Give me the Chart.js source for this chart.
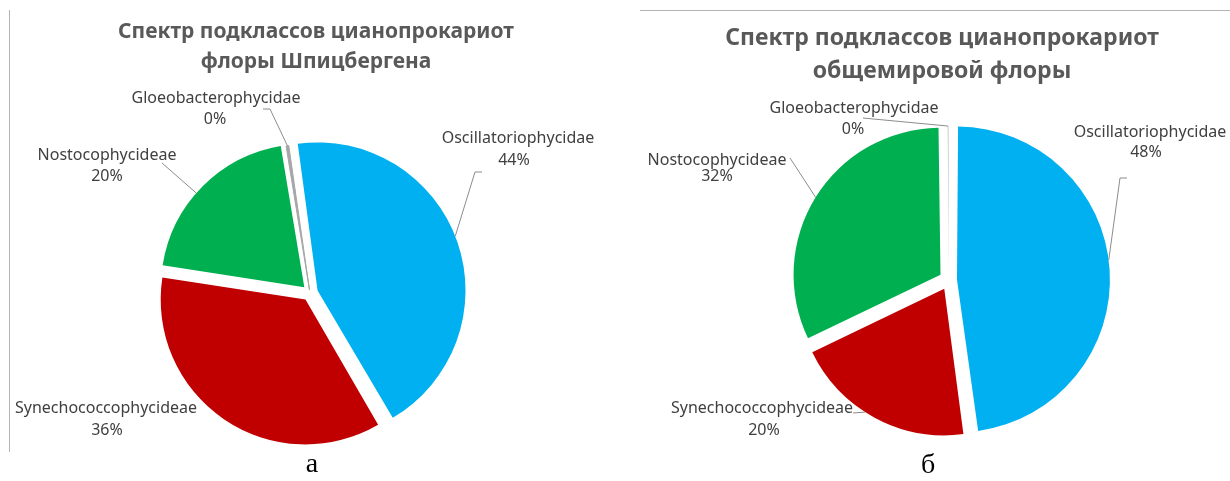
<!DOCTYPE html>
<html lang="ru">
<head>
<meta charset="utf-8">
<title>Спектр подклассов цианопрокариот</title>
<script src="https://cdn.jsdelivr.net/npm/chart.js@4.4.1/dist/chart.umd.min.js"></script>
<style>
  html, body { margin: 0; padding: 0; background: #fff; }
  body { width: 1230px; height: 481px; position: relative; overflow: hidden; }
  .panel { position: absolute; top: 0; width: 615px; height: 481px; }
  .title {
    position: absolute; text-align: center; white-space: nowrap;
    font-family: "Noto Sans", sans-serif; font-weight: bold; color: #595959;
  }
  .caption {
    position: absolute; transform: translateX(-50%);
    font-family: "Liberation Serif", "Times New Roman", serif; font-size: 28px; line-height: 28px; color: #000;
  }
  .frame-left { position: absolute; left: 9px; top: 10px; height: 442px; border-left: 1px solid #b4b4b4; }
  .frame-top { position: absolute; left: 640px; top: 10px; width: 590px; border-top: 1px solid #b4b4b4; }
</style>
</head>
<body>
<div class="frame-left"></div>
<div class="frame-top"></div>

<div class="panel" style="left:0"><canvas id="svalbard"></canvas></div>
<div class="panel" style="left:615px"><canvas id="world"></canvas></div>

<div class="title" style="left:16px; width:600px; top:15px; font-size:21px; line-height:30px;">
  Спектр подклассов цианопрокариот<br>флоры Шпицбергена
</div>
<div class="title" style="left:662px; width:560px; top:20px; font-size:23px; line-height:33px;">
  Спектр подклассов цианопрокариот<br>общемировой флоры
</div>

<div class="caption" style="left:312px; top:449px;">а</div>
<div class="caption" style="left:928px; top:450px;">б</div>

<script>
// subclasses, in the order Excel drew the slices (clockwise from the top)
const categories = ['Oscillatoriophycidae', 'Synechococcophycideae', 'Nostocophycideae', 'Gloeobacterophycidae'];
// share of species, % (Gloeobacterophycidae is a thin sliver that rounds to 0%)
const svalbardShares = [44, 36, 20, 0.4];
const worldShares = [48, 20, 32, 0.2];

const sliceColors = ['#00b0f0', '#c00000', '#00b050', '#a6a6a6'];

// point on the outer edge of an exploded slice, t = 0..1 along the arc
// (mirrors how Chart.js shifts and grows an arc that has an offset)
function edgePoint(arc, t) {
    const p = arc.getProps(['x', 'y', 'startAngle', 'endAngle', 'outerRadius', 'circumference'], true);
    const mid = (p.startAngle + p.endAngle) / 2;
    const shift = (arc.options.offset || 0) / 4;
    const grow = shift * (1 - Math.sin(Math.min(Math.PI, p.circumference || 0)));
    const a = p.startAngle + (p.endAngle - p.startAngle) * t;
    const r = p.outerRadius + grow;
    return {
        x: p.x + Math.cos(mid) * shift + Math.cos(a) * r,
        y: p.y + Math.sin(mid) * shift + Math.sin(a) * r
    };
}

// data labels with leader lines, like Excel's "category name + percentage"
const calloutPlugin = {
    id: 'callouts',
    afterDatasetsDraw(chart, args, opts) {
        const ctx = chart.ctx;
        const meta = chart.getDatasetMeta(0);
        const values = chart.data.datasets[0].data;
        const total = values.reduce((a, b) => a + b, 0);

        ctx.save();
        ctx.font = opts.font;
        ctx.fillStyle = opts.color;
        ctx.strokeStyle = opts.lineColor;
        ctx.lineWidth = 1;
        ctx.textAlign = 'center';
        ctx.textBaseline = 'middle';

        opts.items.forEach((item, i) => {
            const pct = Math.round(values[i] / total * 100) + '%';
            ctx.fillText(chart.data.labels[i], item.x, item.y);
            ctx.fillText(pct, item.px, item.py);

            if (item.leader) {
                const end = edgePoint(meta.data[i], item.leader.t);
                ctx.beginPath();
                item.leader.path.forEach((pt, k) => {
                    if (k === 0) ctx.moveTo(pt[0], pt[1]);
                    else ctx.lineTo(pt[0], pt[1]);
                });
                ctx.lineTo(end.x, end.y);
                ctx.stroke();
            }
        });
        ctx.restore();
    }
};

function makePie(canvasId, shares, cfg) {
    return new Chart(document.getElementById(canvasId), {
        type: 'pie',
        data: {
            labels: categories,
            datasets: [{
                data: shares,
                backgroundColor: sliceColors,
                borderWidth: cfg.borderWidth,
                borderColor: '#a6a6a6',
                offset: cfg.offset,
                hoverOffset: 0
            }]
        },
        options: {
            responsive: true,
            maintainAspectRatio: false,
            animation: false,
            events: [],
            rotation: cfg.rotation,
            radius: cfg.radius,
            layout: { padding: cfg.padding },
            plugins: {
                legend: { display: false },
                tooltip: { enabled: false },
                callouts: {
                    font: '16px "Noto Sans", sans-serif',
                    color: '#404040',
                    lineColor: '#8c8c8c',
                    items: cfg.labels
                }
            }
        },
        plugins: [calloutPlugin]
    });
}

makePie('svalbard', svalbardShares, {
    rotation: -8,
    radius: 143,
    offset: [32, 32, 32, 12],
    borderWidth: [0, 0, 0, 1],
    padding: { left: 5, right: 0, top: 105, bottom: 0 },
    labels: [
        { x: 518, y: 138, px: 514, py: 160, leader: { path: [[482, 172], [475, 172]], t: 0.485 } },
        { x: 106, y: 408, px: 107, py: 430 },
        { x: 107, y: 155, px: 107, py: 176, leader: { path: [[162, 163]], t: 0.45 } },
        { x: 216, y: 98, px: 215, py: 119, leader: { path: [[263, 109], [270, 109]], t: 0.5 } }
    ]
});

makePie('world', worldShares, {
    rotation: 0,
    radius: 146,
    offset: [32, 40, 40, 16],
    borderWidth: 0,
    padding: { left: 53, right: 0, top: 79, bottom: 0 },
    labels: [
        { x: 535, y: 132, px: 531, py: 152, leader: { path: [[512, 178], [505, 178]], t: 0.48 } },
        { x: 147, y: 408, px: 149, py: 430, leader: { path: [[238, 413]], t: 0.56 } },
        { x: 102, y: 160, px: 102, py: 176, leader: { path: [[175, 158]], t: 0.5 } },
        { x: 239, y: 108, px: 238, py: 129, leader: { path: [[248, 118]], t: 0.5 } }
    ]
});
</script>
</body>
</html>
